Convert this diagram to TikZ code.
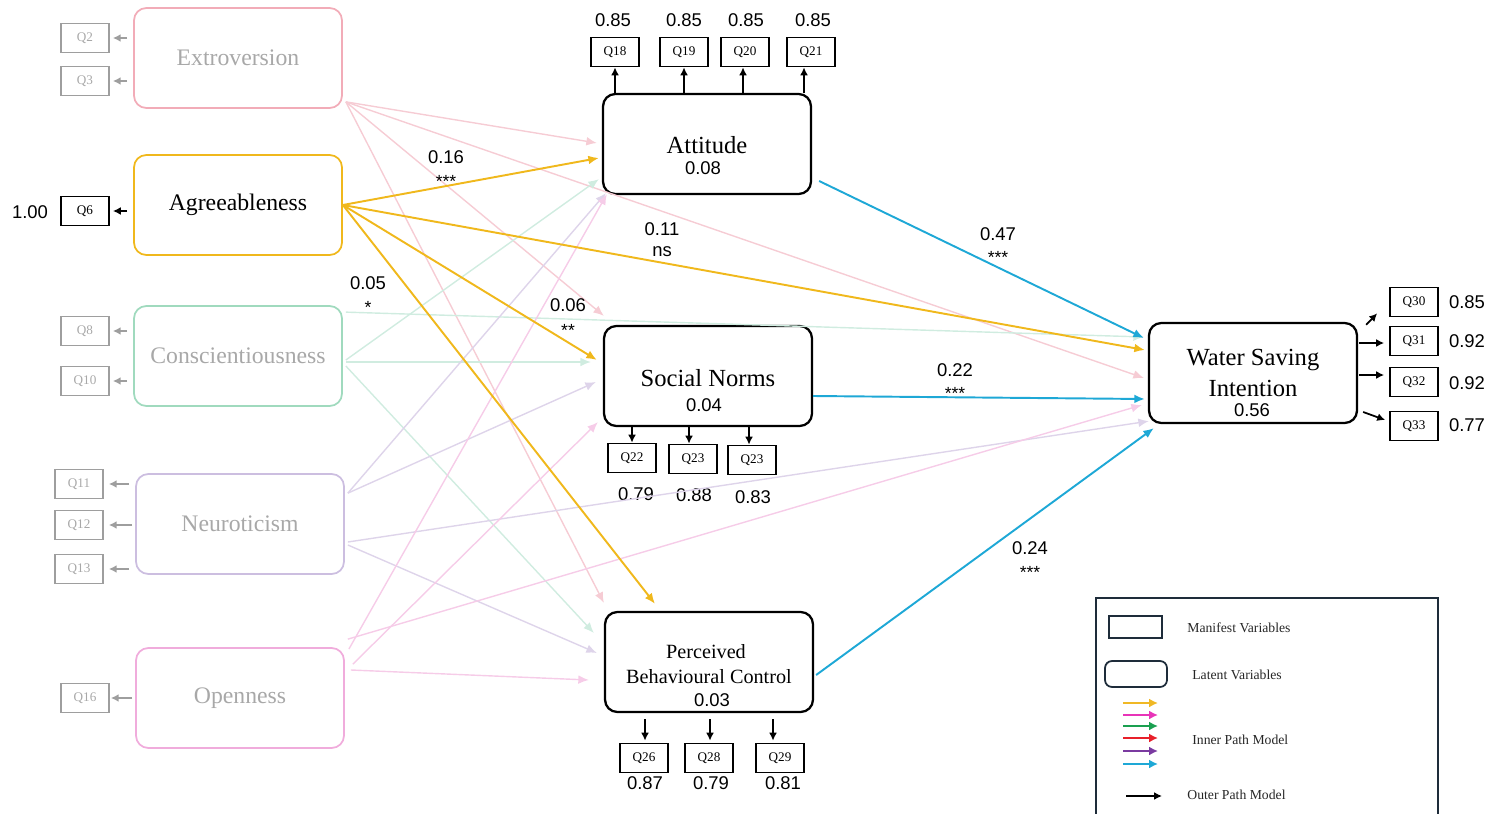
\documentclass[tikz,border=0pt]{standalone}
\usepackage{fontspec}
\setmainfont{Liberation Serif}
\setsansfont{Liberation Sans}
\usepackage{xcolor}
\usepackage{tikz}
\usetikzlibrary{calc}
\usetikzlibrary{positioning}
\usetikzlibrary{arrows.meta}

\definecolor{agrcol}{RGB}{240,184,28}
\definecolor{pathblue}{RGB}{30,168,214}
\definecolor{extline}{RGB}{246,204,212}
\definecolor{extbox}{RGB}{242,172,184}
\definecolor{conline}{RGB}{208,236,224}
\definecolor{conbox}{RGB}{160,218,190}
\definecolor{neuline}{RGB}{222,212,234}
\definecolor{neubox}{RGB}{204,190,224}
\definecolor{opnline}{RGB}{246,204,232}
\definecolor{opnbox}{RGB}{240,172,220}
\definecolor{txtgrey}{RGB}{168,168,168}
\definecolor{qgrey}{RGB}{158,158,158}
\definecolor{lgframe}{RGB}{30,44,58}
\definecolor{lgyellow}{RGB}{240,184,37}
\definecolor{lgmagenta}{RGB}{232,52,184}
\definecolor{lggreen}{RGB}{26,160,80}
\definecolor{lgred}{RGB}{232,32,42}
\definecolor{lgpurple}{RGB}{122,58,160}

\begin{document}
\begin{tikzpicture}[x=0.02cm, y=-0.02cm,
  trait/.style={draw, rounded corners=7pt, line width=1pt, minimum width=4.16cm, minimum height=2cm, font=\fontsize{13.5}{16}\selectfont, text=txtgrey},
  latent/.style={draw, rounded corners=7pt, line width=1.3pt, minimum width=4.16cm, minimum height=2cm},
  lname/.style={font=\fontsize{14}{16}\selectfont, inner sep=0pt},
  num/.style={font=\sffamily\fontsize{10.5}{12}\selectfont, inner sep=0pt},
  sig/.style={font=\sffamily\fontsize{10}{11}\selectfont, inner sep=0pt},
  mv/.style={draw, line width=1pt, minimum width=0.96cm, minimum height=0.58cm, inner sep=0pt, font=\fontsize{7.5}{9}\selectfont},
  mvgrey/.style={mv, draw=qgrey, text=txtgrey, line width=0.9pt},
  outerpath/.style={draw, -{Latex[length=4.5pt,width=4.5pt]}, line width=1pt},
  outergrey/.style={outerpath, draw=qgrey},
  innerpath/.style={draw, -{Latex[length=6pt,width=5pt]}, line width=1.1pt},
  faint/.style={draw, -{Latex[length=6pt,width=5pt]}, line width=0.8pt},
  lgtext/.style={anchor=west, inner sep=0pt, font=\fontsize{7.8}{9}\selectfont, text=black!85}]

\useasboundingbox (0,0) rectangle (1490,814);

\node[trait, draw=extbox] (ext) at (238,58) {Extroversion};
\node[trait, draw=agrcol, text=black] (agr) at (238,205) {Agreeableness};
\node[trait, draw=conbox] (con) at (238,356) {Conscientiousness};
\node[trait, draw=neubox] (neu) at (240,524) {Neuroticism};
\node[trait, draw=opnbox] (opn) at (240,698) {Openness};

\node[mvgrey] (q2) at (85,38) {Q2};
\node[mvgrey] (q3) at (85,81) {Q3};
\node[mv] (q6) at (85,211) {Q6};
\node[mvgrey] (q8) at (85,331) {Q8};
\node[mvgrey] (q10) at (85,381) {Q10};
\node[mvgrey] (q11) at (79,484) {Q11};
\node[mvgrey] (q12) at (79,525) {Q12};
\node[mvgrey] (q13) at (79,569) {Q13};
\node[mvgrey] (q16) at (85,698) {Q16};
\node[num] (l6) at (30,212) {1.00};

\path[outergrey] ($(ext.west |- q2)+(-6,0)$) -- ($(q2.east)+(3,0)$);
\path[outergrey] ($(ext.west |- q3)+(-6,0)$) -- ($(q3.east)+(3,0)$);
\path[outerpath] ($(agr.west |- q6)+(-6,0)$) -- ($(q6.east)+(3,0)$);
\path[outergrey] ($(con.west |- q8)+(-6,0)$) -- ($(q8.east)+(3,0)$);
\path[outergrey] ($(con.west |- q10)+(-6,0)$) -- ($(q10.east)+(3,0)$);
\path[outergrey] ($(neu.west |- q11)+(-6,0)$) -- ($(q11.east)+(5,0)$);
\path[outergrey] ($(neu.west |- q12)+(-3,0)$) -- ($(q12.east)+(5,0)$);
\path[outergrey] ($(neu.west |- q13)+(-6,0)$) -- ($(q13.east)+(5,0)$);
\path[outergrey] ($(opn.west |- q16)+(-3,0)$) -- ($(q16.east)+(1,0)$);

\node[latent] (att) at (707,144) {};
\node[lname] (attN) at (707,145) {Attitude};
\node[num] (attR) at (703,168) {0.08};
\node[latent] (sn) at (708,376) {};
\node[lname] (snN) at (708,378) {Social Norms};
\node[num] (snR) at (704,405) {0.04};
\node[latent] (pbc) at (709,662) {};
\node[lname, font=\fontsize{11.5}{14}\selectfont] (pbcN1) at (706,652) {Perceived};
\node[lname, font=\fontsize{11.5}{14}\selectfont] (pbcN2) at (709,677) {Behavioural Control};
\node[num] (pbcR) at (712,700) {0.03};
\node[latent] (wsi) at (1253,373) {};
\node[lname] (wsiN1) at (1253,360) {Water Saving};
\node[lname] (wsiN2) at (1253,388) {Intention};
\node[num] (wsiR) at (1252,410) {0.56};

\node[mv] (q18) at (615,52) {Q18};
\node[mv] (q19) at (684,52) {Q19};
\node[mv] (q20) at (745,52) {Q20};
\node[mv] (q21) at (811,52) {Q21};
\node[num] (l18) at (613,20) {0.85};
\node[num] (l19) at (684,20) {0.85};
\node[num] (l20) at (746,20) {0.85};
\node[num] (l21) at (813,20) {0.85};
\path[outerpath] (att.north -| q18) -- (q18);
\path[outerpath] (att.north -| q19) -- (q19);
\path[outerpath] ($(att.north -| q20)+(-2,0)$) -- ($(q20.south)+(-2,0)$);
\path[outerpath] ($(att.north -| q21)+(-7,0)$) -- ($(q21.south)+(-7,0)$);

\node[mv] (q22) at (632,458) {Q22};
\node[mv] (q23) at (693,459) {Q23};
\node[mv] (q24) at (752,460) {Q23};
\node[num] (l22) at (636,494) {0.79};
\node[num] (l23) at (694,495) {0.88};
\node[num] (l24) at (753,497) {0.83};
\path[outerpath] (sn.south -| q22) -- (q22);
\path[outerpath] ($(sn.south -| q23)+(-4,0)$) -- ($(q23.north)+(-4,0)$);
\path[outerpath] ($(sn.south -| q24)+(-3,0)$) -- ($(q24.north)+(-3,0)$);

\node[mv] (q26) at (644,758) {Q26};
\node[mv] (q28) at (709,758) {Q28};
\node[mv] (q29) at (780,758) {Q29};
\node[num] (l26) at (645,783) {0.87};
\node[num] (l28) at (711,783) {0.79};
\node[num] (l29) at (783,783) {0.81};
\path[outerpath] ($(pbc.south -| q26)+(1,6)$) -- ($(q26.north)+(1,-2)$);
\path[outerpath] ($(pbc.south -| q28)+(1,6)$) -- ($(q28.north)+(1,-2)$);
\path[outerpath] ($(pbc.south -| q29)+(-7,6)$) -- ($(q29.north)+(-7,-2)$);

\node[mv] (q30) at (1414,302) {Q30};
\node[mv] (q31) at (1414,341) {Q31};
\node[mv] (q32) at (1414,382) {Q32};
\node[mv] (q33) at (1414,426) {Q33};
\node[num] (l30) at (1467,302) {0.85};
\node[num] (l31) at (1467,341) {0.92};
\node[num] (l32) at (1467,383) {0.92};
\node[num] (l33) at (1467,425) {0.77};
\path[outerpath] ($(wsi.north east)+(8,3)$) -- ($(q30.south west)+(-12,-4)$);
\path[outerpath] ($(wsi.east)+(1,-30)$) -- ($(q31.west)+(-5,2)$);
\path[outerpath] ($(wsi.east)+(1,2)$) -- ($(q32.west)+(-5,-7)$);
\path[outerpath] ($(wsi.east)+(5,39)$) -- ($(q33.west)+(-4,-6)$);

\path[faint, draw=extline] ($(ext.south east)+(3,-7)$) -- ($(att.west)+(-5,-1)$);
\path[faint, draw=extline] ($(ext.south east)+(3,-7)$) -- ($(sn.north west)+(1,-9)$);
\path[faint, draw=extline] ($(ext.south east)+(3,-7)$) -- ($(pbc.north west)+(0,-8)$);
\path[faint, draw=extline] ($(ext.south east)+(3,-7)$) -- ($(wsi.west)+(-4,5)$);

\path[faint, draw=conline] ($(con.north east)+(3,7)$) -- ($(wsi.west)+(-4,-36)$);
\path[faint, draw=conline] ($(con.east)+(3,6)$) -- ($(sn.west)+(-12,-14)$);
\path[faint, draw=conline] ($(con.east)+(3,4)$) -- ($(att.south west)+(-3,-16)$);
\path[faint, draw=conline] ($(con.east)+(3,10)$) -- ($(pbc.west)+(-10,-29)$);

\path[faint, draw=neuline] ($(neu.north east)+(3,20)$) -- ($(att.south west)+(4,-2)$);
\path[faint, draw=neuline] ($(neu.north east)+(3,20)$) -- ($(sn.west)+(-7,6)$);
\path[faint, draw=neuline] ($(neu.east)+(3,18)$) -- ($(wsi.south west)+(1,-3)$);
\path[faint, draw=neuline] ($(neu.east)+(3,21)$) -- ($(pbc.west)+(-7,-9)$);

\path[faint, draw=opnline] ($(opn.north east)+(3,-8)$) -- ($(wsi.west)+(-6,32)$);
\path[faint, draw=opnline] ($(opn.north east)+(4,2)$) -- ($(att.south west)+(5,-1)$);
\path[faint, draw=opnline] ($(opn.north east)+(8,17)$) -- ($(sn.south west)+(-5,-5)$);
\path[faint, draw=opnline] ($(opn.east)+(6,-28)$) -- ($(pbc.west)+(-15,18)$);

\path[innerpath, draw=agrcol] (agr.east) -- ($(att.west)+(-3,14)$);
\path[innerpath, draw=agrcol] (agr.east) -- ($(wsi.west)+(-3,-23)$);
\path[innerpath, draw=agrcol] (agr.east) -- ($(sn.west)+(-6,-16)$);
\path[innerpath, draw=agrcol] (agr.east) -- ($(pbc.north)+(-54,-7)$);

\path[innerpath, draw=pathblue] ($(att.east)+(7,37)$) -- ($(wsi.west)+(-4,-35)$);
\path[innerpath, draw=pathblue] ($(sn.east)+(0,20)$) -- ($(wsi.west)+(-3,26)$);
\path[innerpath, draw=pathblue] ($(pbc.east)+(2,13)$) -- ($(wsi.south west)+(6,4)$);

\node[num] (c1) at (446,157) {0.16};
\node[sig] (s1) at (446,181) {***};
\node[num] (c2) at (662,229) {0.11};
\node[num] (c2s) at (662,252) {ns};
\node[num] (c3) at (368,283) {0.05};
\node[sig] (s3) at (368,307) {*};
\node[num] (c4) at (568,305) {0.06};
\node[sig] (s4) at (568,330) {**};
\node[num] (c5) at (998,234) {0.47};
\node[sig] (s5) at (998,257) {***};
\node[num] (c6) at (955,370) {0.22};
\node[sig] (s6) at (955,393) {***};
\node[num] (c7) at (1030,548) {0.24};
\node[sig] (s7) at (1030,572) {***};

\path[draw=lgframe, line width=1.2pt] (1096,820) -- (1096,598) -- (1438,598) -- (1438,820);
\node[draw=lgframe, line width=1pt, minimum width=1.06cm, minimum height=0.44cm, inner sep=0pt] (lgmv) at (1135.5,627) {};
\node[draw=lgframe, line width=1pt, rounded corners=4pt, minimum width=1.24cm, minimum height=0.52cm, inner sep=0pt] (lglv) at (1136,674) {};
\node[lgtext] (lgmvT) at (1187,628) {Manifest Variables};
\node[lgtext] (lglvT) at (1192,675) {Latent Variables};
\foreach \c/\y [count=\i] in {lgyellow/703, lgmagenta/715, lggreen/726, lgred/738, lgpurple/751, pathblue/764} {
  \coordinate (lgA\i) at (1123,\y);
  \coordinate (lgB\i) at (1158,\y);
  \path[draw=\c, line width=1.1pt, -{Latex[length=5pt,width=5pt]}] (lgA\i) -- (lgB\i);
}
\node[lgtext] (lgin) at (1192,740) {Inner Path Model};
\coordinate (lgC) at (1126,796);
\coordinate (lgD) at (1162,796);
\path[outerpath] (lgC) -- (lgD);
\node[lgtext] (lgout) at (1187,795) {Outer Path Model};

\end{tikzpicture}
\end{document}
